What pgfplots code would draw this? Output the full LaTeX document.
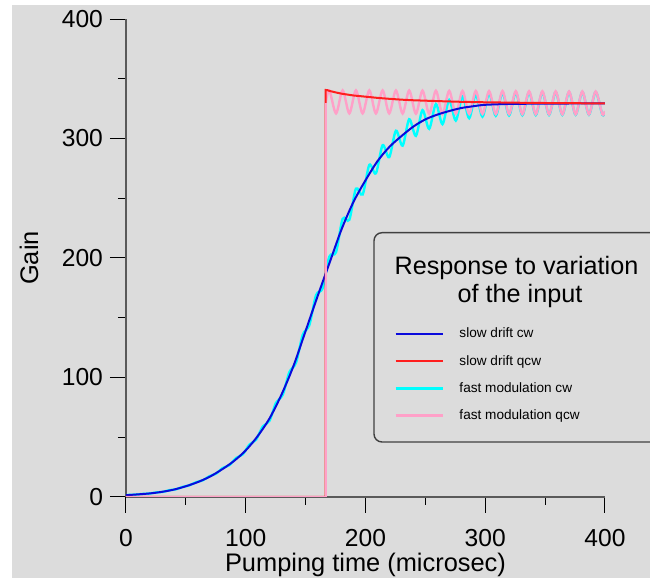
\documentclass[border=0pt]{standalone}
\usepackage{fontspec}
\setmainfont{Liberation Sans}
\usepackage{pgfplots}
\pgfplotsset{compat=1.18}
\definecolor{bg}{RGB}{220,220,220}
\definecolor{cblue}{RGB}{10,10,220}
\definecolor{cred}{RGB}{255,30,30}
\definecolor{ccyan}{RGB}{0,255,255}
\definecolor{cpink}{RGB}{255,160,200}
\definecolor{axgray}{RGB}{90,90,90}
\definecolor{boxgray}{RGB}{64,64,64}
\begin{document}
\begin{tikzpicture}
\useasboundingbox (0,0) rectangle (325pt,289pt);
\fill[white] (0,0) rectangle (325pt,289pt);
\fill[bg] (6pt,0) rectangle (325pt,286.5pt);
\begin{axis}[
  at={(63pt,40.5pt)}, anchor=south west,
  scale only axis, width=239.5pt, height=239pt,
  xmin=0, xmax=400, ymin=0, ymax=400,
  axis x line=bottom, axis y line=left,
  axis line style={-, axgray, line width=0.75pt},
  xtick={0,100,...,400}, ytick={0,100,...,400},
  minor tick num=1,
  tick align=outside,
  major tick length=8pt, minor tick length=4pt,
  tick style={black, line width=0.5pt},
  ticklabel style={font=\fontsize{12.3}{14}\selectfont},
  xticklabel style={yshift=-4.5pt},
  /pgf/number format/assume math mode=true,
  xlabel={Pumping time (microsec)}, ylabel={Gain},
  label style={font=\fontsize{12.7}{15}\selectfont},
  xlabel style={at={([yshift=-37.35pt]axis description cs:0.5,0)}, anchor=base},
  ylabel style={at={([xshift=-48.5pt]axis description cs:0,0.5)}, anchor=center},
  legend style={at={(axis cs:223.8,142.0)}, anchor=north west, draw=none, fill=none,
    inner sep=0pt, font=\fontsize{6.8}{8}\selectfont, row sep=6.95pt, column sep=7.85pt,
    nodes={inner sep=0pt, text height=5.1pt, text depth=1.5pt}},
  legend cell align=left,
  legend image code/.code={\draw[#1] (0pt,0pt) -- (23.5pt,0pt);},
]
% fast modulation cw
\addplot[ccyan, line width=1.2pt, smooth, forget plot] coordinates {
(0,1.5)
(3.0,1.8)(8.6,2.0)
(14.1,2.6)(19.7,2.9)
(25.2,3.8)(30.8,4.3)
(36.4,5.7)(41.9,6.5)
(47.5,8.5)(53.0,9.8)
(58.6,12.4)(64.2,14.0)
(69.7,17.4)(75.3,19.6)
(80.8,24.3)(86.4,26.7)
(92.0,32.7)(97.5,35.7)
(103.1,43.9)(108.6,47.9)
(114.2,59.0)(119.8,63.7)
(125.3,78.9)(130.9,85.6)
(136.4,104.4)(142.0,112.4)
(147.6,135.8)(153.1,143.8)
(158.7,168.9)(164.2,174.7)
(169.8,201.1)(175.4,204.9)
(180.9,232.7)(186.5,232.0)
(192.0,258.0)(197.6,253.1)
(203.2,277.9)(208.7,270.9)
(214.3,294.4)(219.8,284.3)
(225.4,306.5)(231.0,294.0)
(236.5,316.1)(242.1,302.2)
(247.6,323.7)(253.2,308.1)
(258.8,328.8)(264.3,312.0)
(269.9,332.3)(275.4,315.0)
(281.0,335.1)(286.6,317.0)
(292.1,336.7)(297.7,318.3)
(303.2,337.8)(308.8,319.0)
(314.4,338.4)(319.9,319.3)
(325.5,338.6)(331.0,319.5)
(336.6,338.7)(342.2,319.6)
(347.7,338.8)(353.3,319.7)
(358.8,338.9)(364.4,319.8)
(370.0,338.9)(375.5,319.9)
(381.1,339.0)(386.6,319.9)
(392.2,339.0)(397.8,319.9)
(400,322.5)
};
% fast modulation qcw (oscillating part)
\addplot[cpink, line width=1.2pt, smooth, forget plot] coordinates {
(166.8,330.0)
(169.8,340.3)(175.4,321.0)
(180.9,340.3)(186.5,321.0)
(192.0,340.3)(197.6,321.0)
(203.2,340.3)(208.7,321.0)
(214.3,340.3)(219.8,321.0)
(225.4,340.2)(231.0,320.9)
(236.5,340.2)(242.1,320.8)
(247.6,340.1)(253.2,320.7)
(258.8,340.0)(264.3,320.6)
(269.9,339.9)(275.4,320.6)
(281.0,339.8)(286.6,320.5)
(292.1,339.8)(297.7,320.5)
(303.2,339.7)(308.8,320.4)
(314.4,339.7)(319.9,320.4)
(325.5,339.6)(331.0,320.3)
(336.6,339.6)(342.2,320.3)
(347.7,339.5)(353.3,320.2)
(358.8,339.5)(364.4,320.2)
(370.0,339.4)(375.5,320.2)
(381.1,339.4)(386.6,320.2)
(392.2,339.4)(397.8,320.2)
(400,323.0)
};
% slow drift cw
\addplot[cblue, line width=1pt, smooth, forget plot] coordinates {
(0,1.5)(10,2.2)(20,3.0)(30,4.3)(40,6.2)(50,9.0)(60,12.5)(70,17)(80,23)(90,30)
(100,39)(110,51)(120,66)(130,86)(140,110)(150,139)(160,168)(170,196)(180,224)
(190,247)(200,265)(210,281)(220,293)(230,302)(240,310)(250,316)(260,320)(270,323)
(280,325.5)(290,327)(300,328.2)(320,328.9)(350,329.2)(400,329.4)
};
% slow drift qcw
\addplot[cred, line width=1pt, forget plot] coordinates {
(0,0)(166.8,0)(166.8,340.6)(168,340.5)(170,339.8)(175,338.6)(180,337.5)(190,336.0)
(200,335.0)(210,334.0)(220,333.2)(230,332.5)(240,332.0)(260,331.3)(280,330.7)
(300,330.3)(330,329.9)(360,329.6)(400,329.4)
};
% fast modulation qcw (step part)
\addplot[cpink, line width=1.2pt, forget plot] coordinates {
(0,0)(166.8,0)(166.8,330.0)
};
\addlegendimage{cblue, line width=1pt}
\addlegendentry{slow drift cw}
\addlegendimage{cred, line width=1pt}
\addlegendentry{slow drift qcw}
\addlegendimage{ccyan, line width=1.2pt}
\addlegendentry{fast modulation cw}
\addlegendimage{cpink, line width=1.2pt}
\addlegendentry{fast modulation qcw}
\end{axis}
\draw[boxgray, line width=0.7pt, rounded corners=4pt] (187pt,68pt) rectangle (345pt,172.65pt);
\node[anchor=base, font=\fontsize{12.6}{15}\selectfont, inner sep=0pt] at (258.25pt,151.5pt) {Response to variation};
\node[anchor=base, font=\fontsize{12.6}{15}\selectfont, inner sep=0pt] at (260pt,137.65pt) {of the input};
\end{tikzpicture}
\end{document}
